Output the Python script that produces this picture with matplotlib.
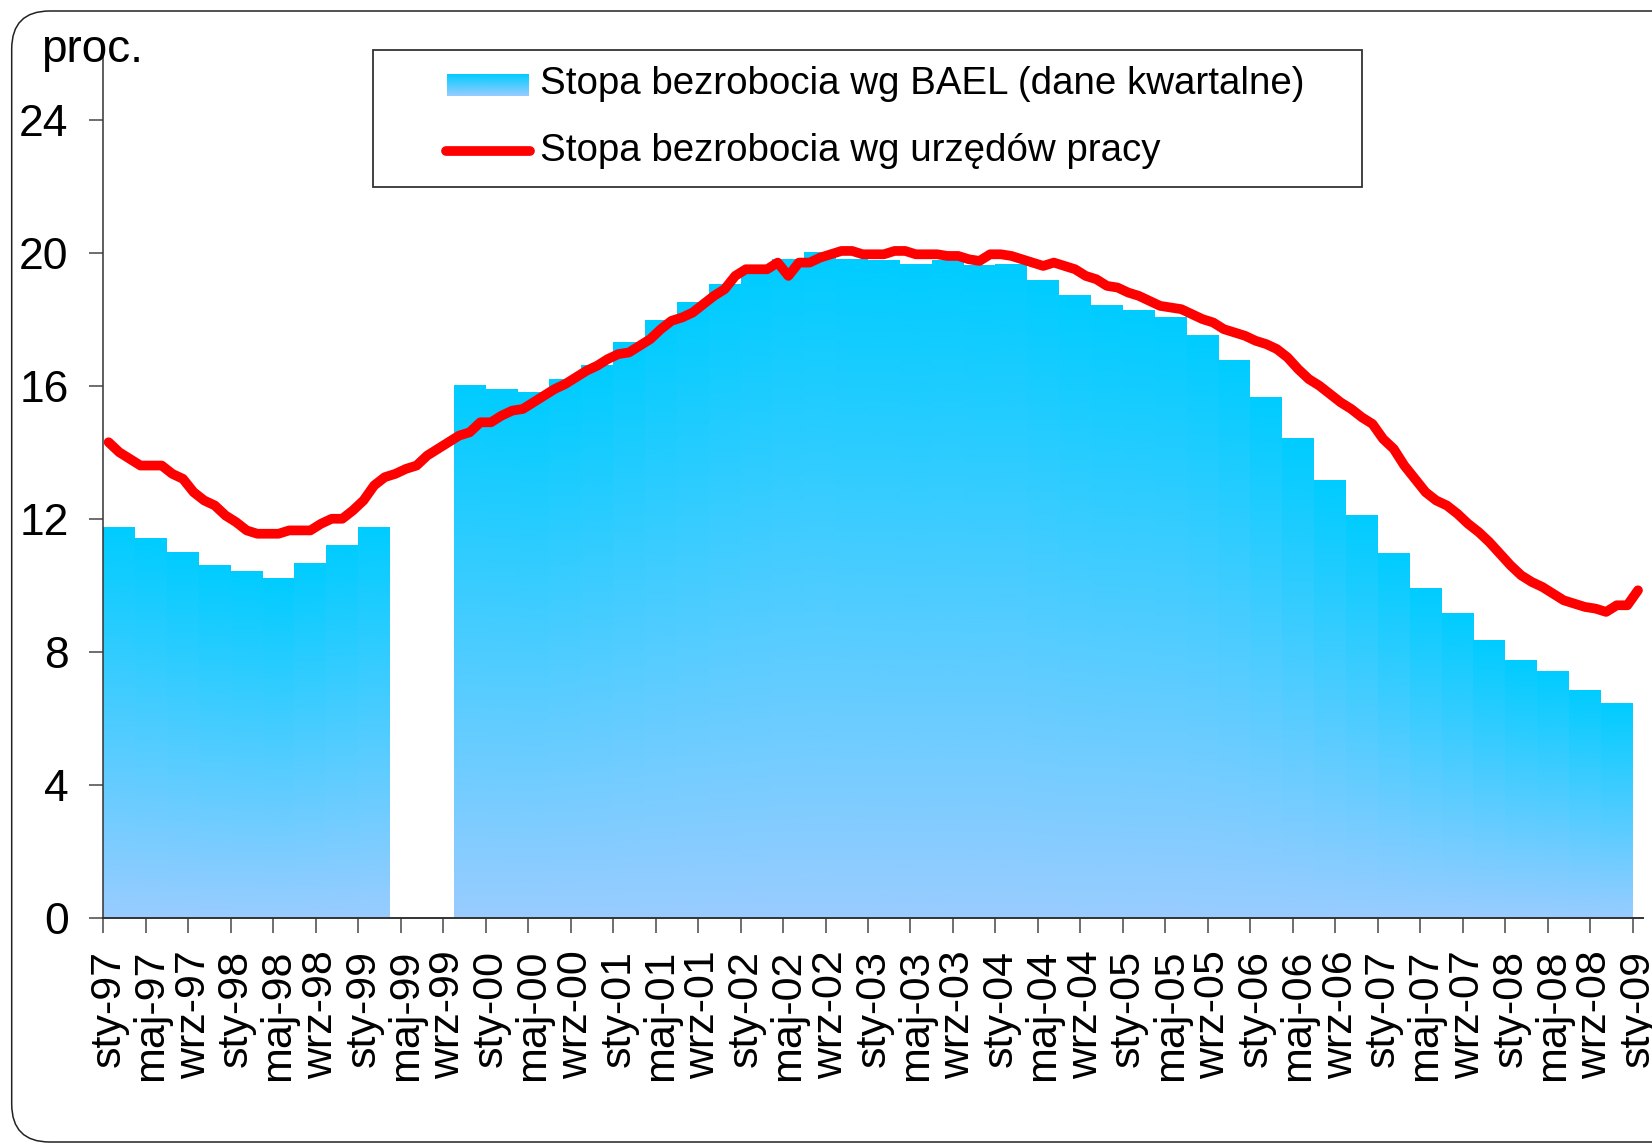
import numpy as np
import matplotlib
matplotlib.use("Agg")
import matplotlib.pyplot as plt
from matplotlib.colors import LinearSegmentedColormap
from matplotlib.patches import FancyBboxPatch, Rectangle
from matplotlib.lines import Line2D

plt.rcParams["font.family"] = ["Liberation Sans", "DejaVu Sans"]

# BAEL unemployment rate, quarterly, Q1 1997 .. Q4 2008 (None = no survey)
bael_quarterly = [
    11.75, 11.4, 11.0, 10.6,             # 1997
    10.4, 10.2, 10.65, 11.2,             # 1998
    11.75, None, None, 16.0,             # 1999
    15.9, 15.8, 16.2, 16.6,              # 2000
    17.3, 17.95, 18.5, 19.05,            # 2001
    19.4, 19.8, 20.0, 19.8,              # 2002
    19.75, 19.65, 19.75, 19.6,           # 2003
    19.65, 19.15, 18.7, 18.4,            # 2004
    18.25, 18.05, 17.5, 16.75,           # 2005
    15.65, 14.4, 13.15, 12.1,            # 2006
    10.95, 9.9, 9.15, 8.35,              # 2007
    7.75, 7.4, 6.85, 6.45,               # 2008
]

# registered unemployment rate (labour offices), monthly, Jan 1997 .. Jan 2009
registered_monthly = [
    14.3, 14.0, 13.8, 13.6, 13.6, 13.6, 13.35, 13.2, 12.8, 12.55, 12.4, 12.1,
    11.9, 11.65, 11.55, 11.55, 11.55, 11.65, 11.65, 11.65, 11.85, 12.0, 12.0, 12.25,
    12.55, 13.0, 13.25, 13.35, 13.5, 13.6, 13.9, 14.1, 14.3, 14.5, 14.6, 14.9,
    14.9, 15.1, 15.25, 15.3, 15.5, 15.7, 15.9, 16.05, 16.25, 16.45, 16.6, 16.8,
    16.95, 17.0, 17.2, 17.4, 17.7, 17.95, 18.05, 18.2, 18.45, 18.7, 18.9, 19.3,
    19.5, 19.5, 19.5, 19.7, 19.3, 19.7, 19.7, 19.85, 19.95, 20.05, 20.05, 19.95,
    19.95, 19.95, 20.05, 20.05, 19.95, 19.95, 19.95, 19.9, 19.9, 19.8, 19.75, 19.95,
    19.95, 19.9, 19.8, 19.7, 19.6, 19.7, 19.6, 19.5, 19.3, 19.2, 19.0, 18.95,
    18.8, 18.7, 18.55, 18.4, 18.35, 18.3, 18.15, 18.0, 17.9, 17.7, 17.6, 17.5,
    17.35, 17.25, 17.1, 16.85, 16.5, 16.2, 16.0, 15.75, 15.5, 15.3, 15.05, 14.85,
    14.4, 14.1, 13.6, 13.2, 12.8, 12.55, 12.4, 12.15, 11.85, 11.6, 11.3, 10.95,
    10.6, 10.3, 10.1, 9.95, 9.75, 9.55, 9.45, 9.35, 9.3, 9.2, 9.4, 9.4,
    9.85,
]

month_names = ["sty", "maj", "wrz"]
years = list(range(1997, 2010))
tick_labels = [f"{m}-{y % 100:02d}" for y in years for m in month_names][:37]

legend_labels = [
    "Stopa bezrobocia wg BAEL (dane kwartalne)",
    "Stopa bezrobocia wg urzędów pracy",
]

W, H = 1652, 1144
fig = plt.figure(figsize=(W / 100, H / 100), dpi=100)


def fx(px):
    return px / W


def fy(py):
    return 1 - py / H


# rounded chart frame (right side runs off the picture)
frame = FancyBboxPatch(
    (0.117, 0.02), 17.5, 11.31,
    boxstyle="round,pad=0,rounding_size=0.38",
    transform=fig.dpi_scale_trans, facecolor="none",
    edgecolor="#222222", linewidth=1.1, zorder=-1,
)
fig.patches.append(frame)

ax = fig.add_axes([fx(103.3), fy(918), fx(1643.3) - fx(103.3), fy(53) - fy(918)])
ax.set_facecolor("none")

cmap = LinearSegmentedColormap.from_list("bael", ["#99CCFF", "#00CCFF"])
grad = np.linspace(0, 1, 256).reshape(-1, 1)

n_months = len(registered_monthly)
for q, v in enumerate(bael_quarterly):
    if v is None:
        continue
    x0 = 3 * q
    ax.imshow(grad, extent=[x0, x0 + 3, 0, v], origin="lower", cmap=cmap,
              aspect="auto", interpolation="bilinear", zorder=1)

ax.plot(np.arange(n_months) + 0.5, registered_monthly, color="#FF0000",
        linewidth=7, solid_joinstyle="round", solid_capstyle="round", zorder=3)

ax.set_xlim(0, n_months)
ax.set_ylim(0, 26)

ax.set_xticks(np.arange(0, n_months, 4))
ax.set_xticklabels([])
ax.set_xticks(np.arange(0, n_months, 4) + 0.5, minor=True)
ax.set_xticklabels(tick_labels, minor=True, rotation=90)
ax.tick_params(axis="x", which="major", length=10.8, width=1.2, color="#555555",
               direction="out")
ax.tick_params(axis="x", which="minor", length=0, pad=23, labelsize=31)

ax.set_yticks(range(0, 25, 4))
ax.tick_params(axis="y", length=10, width=1.2, color="#555555", pad=15,
               labelsize=32)

for side in ("top", "right"):
    ax.spines[side].set_visible(False)
ax.spines["left"].set_color("#333333")
ax.spines["bottom"].set_color("#333333")
ax.spines["left"].set_linewidth(1.1)
ax.spines["bottom"].set_linewidth(1.4)

fig.text(fx(41), fy(61.7), "proc.", fontsize=33, ha="left", va="baseline")

# legend drawn by hand so the swatch can carry the gradient
box = Rectangle((fx(373), fy(187)), fx(1362) - fx(373), fy(50) - fy(187),
                transform=fig.transFigure, facecolor="white",
                edgecolor="#333333", linewidth=1.3, zorder=4)
fig.patches.append(box)

sw = fig.add_axes([fx(446.7), fy(95.7), fx(528.3) - fx(446.7), fy(74) - fy(95.7)],
                  zorder=5)
sw.imshow(grad, origin="lower", cmap=cmap, aspect="auto", extent=[0, 1, 0, 1])
sw.set_axis_off()

fig.lines.append(Line2D([fx(446), fx(530)], [fy(150.7), fy(150.7)],
                        transform=fig.transFigure, color="#FF0000",
                        linewidth=7, solid_capstyle="round", zorder=5))

fig.text(fx(540), fy(94), legend_labels[0], fontsize=27.7, ha="left",
         va="baseline", zorder=6)
fig.text(fx(540), fy(160.7), legend_labels[1], fontsize=27.7, ha="left",
         va="baseline", zorder=6)

fig.savefig("out.png", dpi=100)
